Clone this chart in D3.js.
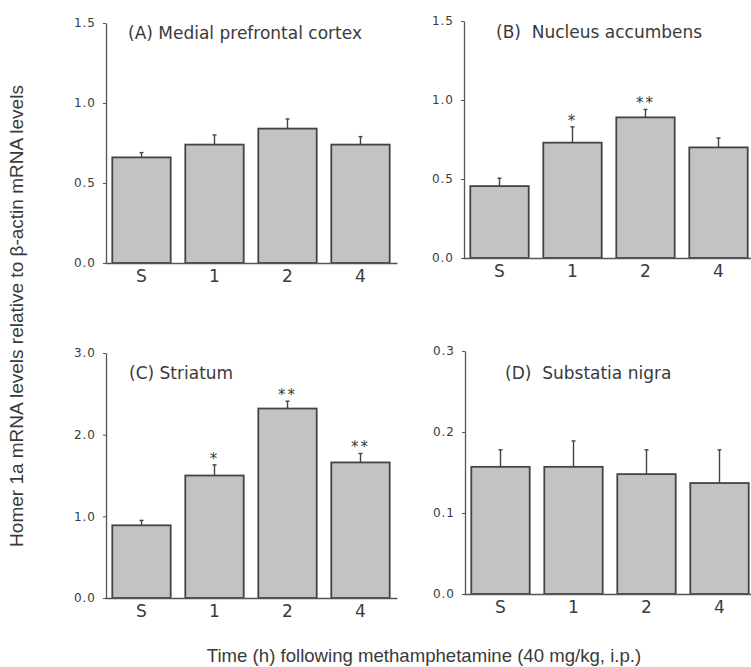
<!DOCTYPE html>
<html>
<head>
<meta charset="utf-8">
<script src="https://cdn.jsdelivr.net/npm/d3@7"></script>
<style>
  body { margin: 0; background: #fff; }
  svg { display: block; }
</style>
</head>
<body>
<div id="chart"></div>
<script>
// data
var categories = ["S", "1", "2", "4"];

var mpfcMean = [0.66, 0.74, 0.84, 0.74];
var mpfcErr  = [0.03, 0.06, 0.06, 0.05];
var mpfcSig  = ["", "", "", ""];

var naccMean = [0.455, 0.73, 0.89, 0.70];
var naccErr  = [0.05, 0.10, 0.05, 0.06];
var naccSig  = ["", "*", "**", ""];

var striMean = [0.89, 1.50, 2.32, 1.66];
var striErr  = [0.06, 0.13, 0.09, 0.11];
var striSig  = ["", "*", "**", "**"];

var snMean = [0.157, 0.157, 0.148, 0.137];
var snErr  = [0.021, 0.032, 0.030, 0.041];
var snSig  = ["", "", "", ""];

var yTicksA = [0, 0.5, 1.0, 1.5];
var yTicksC = [0, 1.0, 2.0, 3.0];
var yTicksD = [0, 0.1, 0.2, 0.3];

var W = 751, H = 667;
var textCol = "#3a3a3a";

var svg = d3.select("#chart")
  .append("svg")
  .attr("width", W)
  .attr("height", H);

// one panel per brain region
var panels = [
  {title: "(A) Medial prefrontal cortex", mean: mpfcMean, err: mpfcErr, sig: mpfcSig,
   max: 1.5, ticks: yTicksA, x0: 106, y0: 263, y1: 23, tx: 128, ty: 39},
  {title: "(B)  Nucleus accumbens", mean: naccMean, err: naccErr, sig: naccSig,
   max: 1.5, ticks: yTicksA, x0: 464, y0: 258, y1: 21, tx: 496, ty: 38},
  {title: "(C) Striatum", mean: striMean, err: striErr, sig: striSig,
   max: 3.0, ticks: yTicksC, x0: 106, y0: 598, y1: 353, tx: 129, ty: 379},
  {title: "(D)  Substatia nigra", mean: snMean, err: snErr, sig: snSig,
   max: 0.3, ticks: yTicksD, x0: 465, y0: 594, y1: 351, tx: 505, ty: 379}
];

panels.forEach(function(p) {
  var g = svg.append("g");

  var x = d3.scaleBand()
    .domain(categories)
    .range([p.x0 - 1, p.x0 + 291])
    .paddingInner(0.2)
    .paddingOuter(0.1);

  var y = d3.scaleLinear()
    .domain([0, p.max])
    .range([p.y0, p.y1]);

  var rows = categories.map(function(c, i) {
    return {cat: c, mean: p.mean[i], err: p.err[i], sig: p.sig[i]};
  });

  // bars
  g.selectAll("rect.bar")
    .data(rows)
    .enter()
    .append("rect")
      .attr("class", "bar")
      .attr("x", function(d) { return x(d.cat); })
      .attr("y", function(d) { return y(d.mean); })
      .attr("width", x.bandwidth())
      .attr("height", function(d) { return y(0) - y(d.mean); })
      .attr("fill", "#c3c3c3")
      .attr("stroke", "#444")
      .attr("stroke-width", 1.8);

  // upper error bars
  var eb = g.selectAll("g.err")
    .data(rows)
    .enter()
    .append("g")
      .attr("class", "err")
      .attr("stroke", "#444")
      .attr("stroke-width", 1.4);
  eb.append("line")
    .attr("x1", function(d) { return x(d.cat) + x.bandwidth() / 2; })
    .attr("x2", function(d) { return x(d.cat) + x.bandwidth() / 2; })
    .attr("y1", function(d) { return y(d.mean); })
    .attr("y2", function(d) { return y(d.mean + d.err); });
  eb.append("line")
    .attr("x1", function(d) { return x(d.cat) + x.bandwidth() / 2 - 2; })
    .attr("x2", function(d) { return x(d.cat) + x.bandwidth() / 2 + 2; })
    .attr("y1", function(d) { return y(d.mean + d.err); })
    .attr("y2", function(d) { return y(d.mean + d.err); });

  // significance stars
  g.selectAll("text.sig")
    .data(rows.filter(function(d) { return d.sig; }))
    .enter()
    .append("text")
      .attr("class", "sig")
      .attr("x", function(d) { return x(d.cat) + x.bandwidth() / 2; })
      .attr("y", function(d) { return y(d.mean + d.err) - 1; })
      .attr("text-anchor", "middle")
      .attr("font-family", "DejaVu Sans, sans-serif")
      .attr("font-size", 15)
      .attr("letter-spacing", 2)
      .attr("fill", textCol)
      .text(function(d) { return d.sig; });

  // y axis
  var ya = g.append("g")
    .attr("transform", "translate(" + p.x0 + ",0)")
    .call(d3.axisLeft(y).tickValues(p.ticks).tickFormat(d3.format(".1f"))
      .tickSize(3).tickSizeOuter(0).tickPadding(7));
  ya.select(".domain").attr("stroke", "#555").attr("stroke-width", 1.3);
  ya.selectAll(".tick line").attr("stroke", "#555");
  ya.selectAll("text")
    .attr("font-family", "DejaVu Sans, sans-serif")
    .attr("font-size", 12)
    .attr("letter-spacing", 1)
    .attr("fill", textCol);

  // x axis
  var xa = g.append("g")
    .attr("transform", "translate(0," + p.y0 + ")")
    .call(d3.axisBottom(x).tickSize(0).tickSizeOuter(0).tickPadding(7));
  xa.select(".domain").attr("stroke", "#555").attr("stroke-width", 1.3);
  xa.selectAll("text")
    .attr("font-family", "DejaVu Sans, sans-serif")
    .attr("font-size", 17)
    .attr("fill", textCol);

  // panel title
  g.append("text")
    .attr("x", p.tx)
    .attr("y", p.ty)
    .attr("font-family", "DejaVu Sans, sans-serif")
    .attr("font-size", 17)
    .attr("fill", textCol)
    .attr("xml:space", "preserve")
    .text(p.title);
});

// shared axis titles
svg.append("text")
  .attr("transform", "translate(23,316) rotate(-90)")
  .attr("text-anchor", "middle")
  .attr("font-family", "Liberation Sans, Arial, sans-serif")
  .attr("font-size", 19)
  .attr("fill", textCol)
  .text("Homer 1a mRNA levels relative to \u03b2-actin mRNA levels");

svg.append("text")
  .attr("x", 424)
  .attr("y", 662)
  .attr("text-anchor", "middle")
  .attr("font-family", "Liberation Sans, Arial, sans-serif")
  .attr("font-size", 18.6)
  .attr("fill", textCol)
  .text("Time (h) following methamphetamine (40 mg/kg, i.p.)");
</script>
</body>
</html>
